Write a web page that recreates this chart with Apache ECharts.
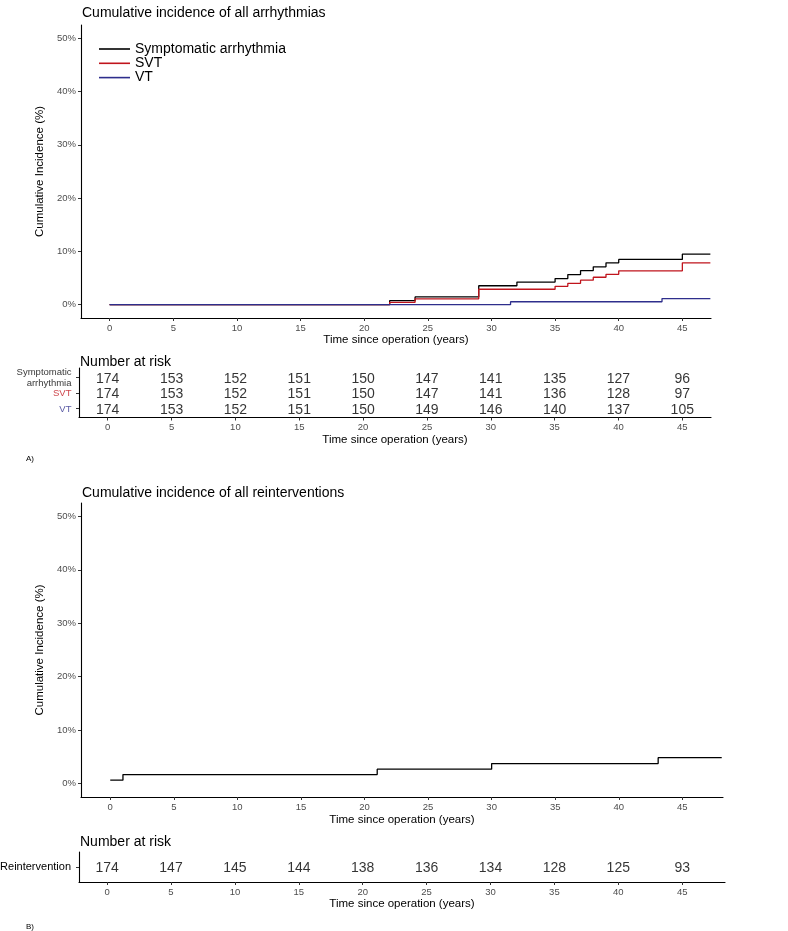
<!DOCTYPE html>
<html>
<head>
<meta charset="utf-8">
<script src="https://cdn.jsdelivr.net/npm/echarts@6/dist/echarts.min.js"></script>
<style>
  html, body { margin: 0; background: #fff; }
  #chart { width: 788px; height: 931px; }
</style>
</head>
<body>
<div id="chart"></div>
<script>
// tick labels
const xTicks = [0, 5, 10, 15, 20, 25, 30, 35, 40, 45];
const yTicks = [0, 10, 20, 30, 40, 50];

// A) cumulative incidence (%) - step points
const symptTimes = [0, 22, 24, 29, 32, 35, 36, 37, 38, 39, 40, 45, 47.2];
const symptValues = [0, 0.75, 1.45, 3.55, 4.25, 4.9, 5.65, 6.4, 7.1, 7.85, 8.5, 9.5, 9.5];
const svtTimes = [0, 22, 24, 29, 35, 36, 37, 38, 39, 40, 45, 47.2];
const svtValues = [0, 0.45, 1.1, 2.9, 3.45, 4.0, 4.6, 5.15, 5.7, 6.35, 7.85, 7.85];
const vtTimes = [0, 31.5, 43.4, 47.2];
const vtValues = [0, 0.55, 1.15, 1.15];

// B) reinterventions
const reintTimes = [0, 1, 21, 30, 43.1, 48.1];
const reintValues = [0.65, 1.7, 2.7, 3.75, 4.85, 4.85];

// number at risk
const riskTimes = [0, 5, 10, 15, 20, 25, 30, 35, 40, 45];
const riskSympt = [174, 153, 152, 151, 150, 147, 141, 135, 127, 96];
const riskSVT = [174, 153, 152, 151, 150, 147, 141, 136, 128, 97];
const riskVT = [174, 153, 152, 151, 150, 149, 146, 140, 137, 105];
const riskReint = [174, 147, 145, 144, 138, 136, 134, 128, 125, 93];

const FONT = "'Liberation Sans', Arial, sans-serif";
const BLACK = '#000000';
const RED = '#c0141c';
const BLUE = '#2e2e8c';
const GREY = '#4d4d4d';

const pairs = (t, v) => t.map((x, i) => [x, v[i]]);
const riskPoints = (vals, row) => riskTimes.map((x, i) => [x, row, vals[i]]);

const axisLineStyle = { show: true, onZero: false, lineStyle: { color: '#000', width: 1.1 } };
const tickStyle = { show: true, length: 3, lineStyle: { color: '#333', width: 1 } };

function xAxisFor(grid, min, max, nameGap) {
  return {
    type: 'value', gridIndex: grid, min: min, max: max,
    name: 'Time since operation (years)', nameLocation: 'middle', nameGap: nameGap,
    nameTextStyle: { fontFamily: FONT, fontSize: 11.5, color: '#000' },
    axisLine: axisLineStyle,
    axisTick: Object.assign({ customValues: xTicks }, tickStyle),
    axisLabel: { customValues: xTicks, margin: 5, fontFamily: FONT, fontSize: 9.5, color: GREY },
    splitLine: { show: false }
  };
}

function incidenceY(grid) {
  return {
    type: 'value', gridIndex: grid, min: -2.5, max: 52.5,
    name: 'Cumulative Incidence (%)', nameLocation: 'middle', nameGap: 30,
    nameTextStyle: { fontFamily: FONT, fontSize: 11.5, color: '#000' },
    axisLine: axisLineStyle,
    axisTick: Object.assign({ customValues: yTicks }, tickStyle),
    axisLabel: { customValues: yTicks, formatter: '{value}%', margin: 5, fontFamily: FONT, fontSize: 9.5, color: GREY },
    splitLine: { show: false }
  };
}

function stepLine(name, color, data, x, y) {
  return {
    name: name, type: 'line', step: 'end', xAxisIndex: x, yAxisIndex: y,
    data: data, symbol: 'none', silent: true,
    lineStyle: { color: color, width: 1.3 }, itemStyle: { color: color }
  };
}

function riskSeries(data, x, y) {
  return {
    type: 'scatter', xAxisIndex: x, yAxisIndex: y, data: data,
    symbolSize: 1, itemStyle: { color: 'rgba(0,0,0,0)' }, silent: true,
    label: {
      show: true, position: 'inside', offset: [0, 1.5],
      fontFamily: FONT, fontSize: 14, color: '#000',
      formatter: p => String(p.value[2])
    }
  };
}

// strata names for the risk table, placed at the left end of the axis
function rowLabel(text, row, color, xMin) {
  return {
    type: 'scatter', xAxisIndex: 1, yAxisIndex: 1, data: [[xMin, row]],
    symbolSize: 1, itemStyle: { color: 'rgba(0,0,0,0)' }, silent: true,
    label: {
      show: true, position: 'left', distance: 7, align: 'right', offset: [0, 1],
      fontFamily: FONT, fontSize: 9.5, lineHeight: 11, color: color,
      formatter: () => text
    }
  };
}

function titleText(text, left, top, size) {
  return {
    text: text, left: left, top: top, padding: 0,
    textStyle: { fontFamily: FONT, fontSize: size, fontWeight: 'normal', color: '#000' }
  };
}

const chart = echarts.init(document.getElementById('chart'));

chart.setOption({
  backgroundColor: '#fff',
  animation: false,
  textStyle: { fontFamily: FONT },
  title: [
    titleText('Cumulative incidence of all arrhythmias', 82, 6, 14),
    titleText('Number at risk', 80, 355.5, 14),
    titleText('A)', 26, 455, 8),
    titleText('Cumulative incidence of all reinterventions', 82, 486, 14),
    titleText('Number at risk', 80, 835.5, 14),
    titleText('B)', 26, 922.5, 8)
  ],
  legend: {
    data: ['Symptomatic arrhythmia', 'SVT', 'VT'],
    orient: 'vertical', left: 99, top: 42, padding: 0,
    icon: 'rect', itemWidth: 31, itemHeight: 1.6, itemGap: 0.3,
    selectedMode: false,
    textStyle: { fontFamily: FONT, fontSize: 14, color: '#000', lineHeight: 14 }
  },
  grid: [
    { left: 81, top: 25, width: 630, height: 293, outerBoundsMode: 'none' },
    { left: 79, top: 368, width: 632, height: 49.5, outerBoundsMode: 'none' },
    { left: 81, top: 503, width: 642, height: 294, outerBoundsMode: 'none' },
    { left: 79, top: 852, width: 646, height: 30, outerBoundsMode: 'none' }
  ],
  xAxis: [
    xAxisFor(0, -2.25, 47.25, 15),
    xAxisFor(1, -2.25, 47.25, 16),
    xAxisFor(2, -2.3, 48.2, 17),
    xAxisFor(3, -2.2, 48.35, 14.5)
  ],
  yAxis: [
    incidenceY(0),
    {
      type: 'value', gridIndex: 1, min: 0.4, max: 3.6,
      axisLine: axisLineStyle,
      axisTick: Object.assign({ customValues: [1, 2, 3] }, tickStyle),
      axisLabel: { show: false },
      splitLine: { show: false }
    },
    incidenceY(2),
    {
      type: 'value', gridIndex: 3, min: 0.4, max: 1.6,
      axisLine: axisLineStyle,
      axisTick: Object.assign({ customValues: [1] }, tickStyle),
      axisLabel: {
        customValues: [1], margin: 8, fontFamily: FONT, fontSize: 11, color: '#000',
        formatter: () => 'Reintervention'
      },
      splitLine: { show: false }
    }
  ],
  series: [
    stepLine('Symptomatic arrhythmia', BLACK, pairs(symptTimes, symptValues), 0, 0),
    stepLine('SVT', RED, pairs(svtTimes, svtValues), 0, 0),
    stepLine('VT', BLUE, pairs(vtTimes, vtValues), 0, 0),
    riskSeries(riskPoints(riskSympt, 3), 1, 1),
    riskSeries(riskPoints(riskSVT, 2), 1, 1),
    riskSeries(riskPoints(riskVT, 1), 1, 1),
    rowLabel('Symptomatic\narrhythmia', 3, BLACK, -2.25),
    rowLabel('SVT', 2, RED, -2.25),
    rowLabel('VT', 1, BLUE, -2.25),
    stepLine('Reintervention', BLACK, pairs(reintTimes, reintValues), 2, 2),
    riskSeries(riskPoints(riskReint, 1), 3, 3)
  ]
});
</script>
</body>
</html>
